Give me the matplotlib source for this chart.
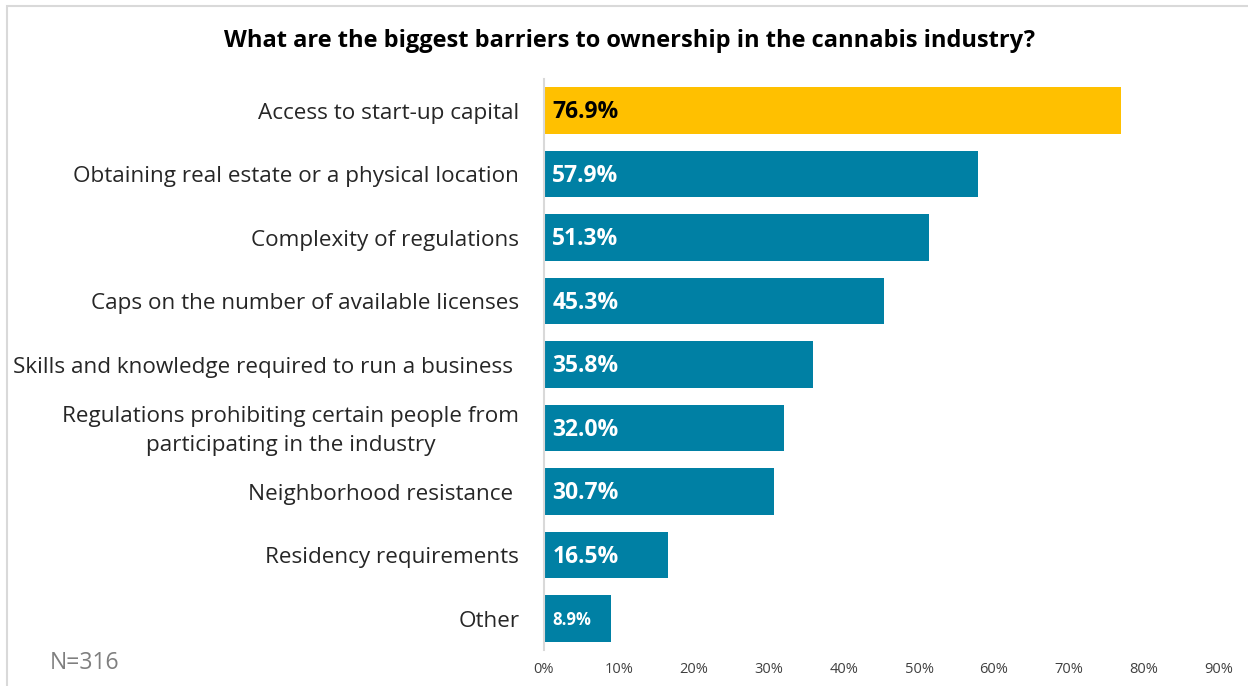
import matplotlib.pyplot as plt
from matplotlib.patches import Rectangle

categories = [
    "Access to start-up capital",
    "Obtaining real estate or a physical location",
    "Complexity of regulations",
    "Caps on the number of available licenses",
    "Skills and knowledge required to run a business ",
    "Regulations prohibiting certain people from\nparticipating in the industry",
    "Neighborhood resistance ",
    "Residency requirements",
    "Other",
]
values = [76.9, 57.9, 51.3, 45.3, 35.8, 32.0, 30.7, 16.5, 8.9]
ticks = [0, 10, 20, 30, 40, 50, 60, 70, 80, 90]

YELLOW = "#FFC000"
TEAL = "#0080A4"
FONT = "Open Sans"

W, H = 1248, 686
fig = plt.figure(figsize=(W / 100, H / 100), dpi=100)

# frame: only top and left edges visible in the reference
fig.patches.append(Rectangle((7 / W, -0.1), 1.2, 1 - 6 / H + 0.1,
                             transform=fig.transFigure, fill=False,
                             edgecolor="#d9d9d9", linewidth=1.5))

ax = fig.add_axes([544 / W, 1 - 650.25 / H, (1219 - 544) / W, (650.25 - 78.75) / H])
ys = list(range(len(categories)))
colors = [YELLOW] + [TEAL] * (len(values) - 1)
ax.barh(ys, values, height=0.74, color=colors)
ax.set_xlim(0, 90)
ax.set_ylim(len(categories) - 0.5, -0.5)

for s in ["top", "right", "bottom"]:
    ax.spines[s].set_visible(False)
ax.spines["left"].set_color("#d9d9d9")
ax.spines["left"].set_linewidth(1.5)

ax.set_xticks(ticks)
ax.set_xticklabels([f"{t}%" for t in ticks], fontsize=10.5, color="#404040", family=FONT)
ax.tick_params(axis="x", length=0, pad=8.5)
ax.set_yticks([])

for y, lab in zip(ys, categories):
    ax.text(-3.3, y + 0.045, lab, ha="right", va="center", multialignment="center",
            fontsize=16.2, color="#262626", family=FONT, linespacing=1.5)

for i, (y, v) in enumerate(zip(ys, values)):
    small = v < 10
    ax.text(1.1, y + 0.03, f"{v:.1f}%", ha="left", va="center", fontweight="bold",
            fontsize=12 if small else 16.5, family=FONT,
            color="black" if i == 0 else "white")

fig.text(630 / W, 1 - 41 / H, "What are the biggest barriers to ownership in the cannabis industry?",
         ha="center", va="center", fontsize=17, fontweight="bold", family=FONT)
fig.text(50 / W, 1 - 663 / H, "N=316", ha="left", va="center", fontsize=16.5,
         color="#7f7f7f", family=FONT)

fig.savefig("out.png", dpi=100)
